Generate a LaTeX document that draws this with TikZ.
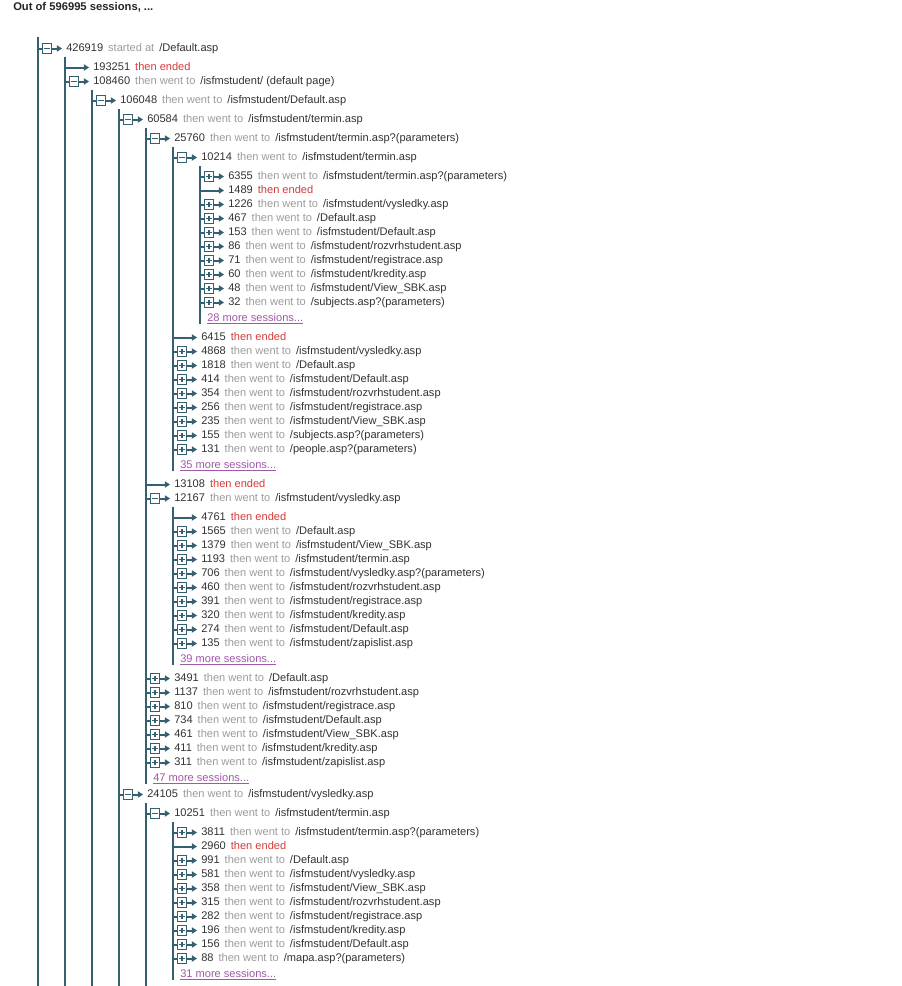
\documentclass[tikz,border=0pt]{standalone}
\usepackage{fontspec}
\setmainfont{Liberation Sans}
\usetikzlibrary{arrows.meta}

\definecolor{treeline}{HTML}{35606F}
\definecolor{numtext}{HTML}{333333}
\definecolor{softgray}{HTML}{9C9C9C}
\definecolor{endred}{HTML}{D63B3B}
\definecolor{linkpurple}{HTML}{A058A8}

\tikzset{
  trunk/.style={draw=treeline, line width=2.2pt},
  stem/.style={draw=treeline, line width=1.5pt},
  tobox/.style={stem, -{Triangle[length=3.8pt,width=4.6pt]}, shorten >=3pt},
  xbox/.style={draw=treeline, fill=white, line width=0.8pt, minimum size=7pt, inner sep=0pt},
  minusbox/.style={xbox, path picture={
    \draw[treeline,line width=0.8pt] ([xshift=1.4pt]path picture bounding box.west) -- ([xshift=-1.4pt]path picture bounding box.east);}},
  plusbox/.style={xbox, path picture={
    \draw[treeline,line width=0.8pt] ([xshift=1.4pt]path picture bounding box.west) -- ([xshift=-1.4pt]path picture bounding box.east);
    \draw[treeline,line width=0.8pt] ([yshift=1.4pt]path picture bounding box.south) -- ([yshift=-1.4pt]path picture bounding box.north);}},
  rowtext/.style={anchor=west, inner sep=0pt, text=numtext, text height=6.4pt, text depth=1.8pt},
  moretext/.style={anchor=west, inner sep=0pt, text=linkpurple, text height=6.4pt, text depth=2pt}
}

% one row: [verb]{name}{depth}{y}{box}{count}{page}
\newcommand{\wentrow}[7][then went to]{%
  \coordinate (#2-l) at ({38+27*#3},#4);
  \node[#5] (#2-b) at ({47+27*#3},#4) {};
  \node[rowtext] (#2) at ({66+27*#3},#4) {#6\hspace{0.45em}\textcolor{softgray}{#1}\hspace{0.45em}#7};
  \draw[stem] (#2-l) -- (#2-b);
  \draw[tobox] (#2-b) -- (#2);
}
% {name}{depth}{y}{count}
\newcommand{\stoprow}[4]{%
  \coordinate (#1-l) at ({38+27*#2},#3);
  \node[rowtext] (#1) at ({66+27*#2},#3) {#4\hspace{0.45em}\textcolor{endred}{then ended}};
  \draw[tobox] (#1-l) -- (#1);
}
% {name}{depth}{y}{count}
\newcommand{\morerow}[4]{%
  \node[moretext] (#1) at ({45+27*#2},#3) {\underline{#4 more sessions...}};
}

\begin{document}
\begin{tikzpicture}[x=0.75pt,y=-0.75pt,font=\fontsize{8.3}{10}\selectfont]
\useasboundingbox[fill=white] (0,-1.5) rectangle (902,984.5);
\node[anchor=west, inner sep=0pt, text=black!85, font=\fontsize{8.4}{10}\selectfont\bfseries] (title) at (13,6) {Out of 596995 sessions, ...};
\coordinate (bottom) at (0,984.5);

\wentrow[started at]{s426919}{0}{47}{minusbox}{426919}{/Default.asp}
\stoprow{s193251}{1}{66}{193251}
\wentrow{s108460}{1}{80}{minusbox}{108460}{/isfmstudent/ (default page)}
\wentrow{s106048}{2}{99}{minusbox}{106048}{/isfmstudent/Default.asp}
\wentrow{s60584}{3}{118}{minusbox}{60584}{/isfmstudent/termin.asp}
\wentrow{s25760}{4}{137}{minusbox}{25760}{/isfmstudent/termin.asp?(parameters)}
\wentrow{s10214}{5}{156}{minusbox}{10214}{/isfmstudent/termin.asp}

\wentrow{s6355}{6}{175}{plusbox}{6355}{/isfmstudent/termin.asp?(parameters)}
\stoprow{s1489}{6}{189}{1489}
\wentrow{s1226}{6}{203}{plusbox}{1226}{/isfmstudent/vysledky.asp}
\wentrow{s467}{6}{217}{plusbox}{467}{/Default.asp}
\wentrow{s153}{6}{231}{plusbox}{153}{/isfmstudent/Default.asp}
\wentrow{s86}{6}{245}{plusbox}{86}{/isfmstudent/rozvrhstudent.asp}
\wentrow{s71}{6}{259}{plusbox}{71}{/isfmstudent/registrace.asp}
\wentrow{s60}{6}{273}{plusbox}{60}{/isfmstudent/kredity.asp}
\wentrow{s48}{6}{287}{plusbox}{48}{/isfmstudent/View\_SBK.asp}
\wentrow{s32}{6}{301}{plusbox}{32}{/subjects.asp?(parameters)}
\morerow{m28}{6}{317}{28}

\stoprow{s6415}{5}{336}{6415}
\wentrow{s4868}{5}{350}{plusbox}{4868}{/isfmstudent/vysledky.asp}
\wentrow{s1818}{5}{364}{plusbox}{1818}{/Default.asp}
\wentrow{s414}{5}{378}{plusbox}{414}{/isfmstudent/Default.asp}
\wentrow{s354}{5}{392}{plusbox}{354}{/isfmstudent/rozvrhstudent.asp}
\wentrow{s256}{5}{406}{plusbox}{256}{/isfmstudent/registrace.asp}
\wentrow{s235}{5}{420}{plusbox}{235}{/isfmstudent/View\_SBK.asp}
\wentrow{s155}{5}{434}{plusbox}{155}{/subjects.asp?(parameters)}
\wentrow{s131}{5}{448}{plusbox}{131}{/people.asp?(parameters)}
\morerow{m35}{5}{464}{35}

\stoprow{s13108}{4}{483}{13108}
\wentrow{s12167}{4}{497}{minusbox}{12167}{/isfmstudent/vysledky.asp}

\stoprow{s4761}{5}{516}{4761}
\wentrow{s1565}{5}{530}{plusbox}{1565}{/Default.asp}
\wentrow{s1379}{5}{544}{plusbox}{1379}{/isfmstudent/View\_SBK.asp}
\wentrow{s1193}{5}{558}{plusbox}{1193}{/isfmstudent/termin.asp}
\wentrow{s706}{5}{572}{plusbox}{706}{/isfmstudent/vysledky.asp?(parameters)}
\wentrow{s460}{5}{586}{plusbox}{460}{/isfmstudent/rozvrhstudent.asp}
\wentrow{s391}{5}{600}{plusbox}{391}{/isfmstudent/registrace.asp}
\wentrow{s320}{5}{614}{plusbox}{320}{/isfmstudent/kredity.asp}
\wentrow{s274}{5}{628}{plusbox}{274}{/isfmstudent/Default.asp}
\wentrow{s135}{5}{642}{plusbox}{135}{/isfmstudent/zapislist.asp}
\morerow{m39}{5}{658}{39}

\wentrow{s3491}{4}{677}{plusbox}{3491}{/Default.asp}
\wentrow{s1137}{4}{691}{plusbox}{1137}{/isfmstudent/rozvrhstudent.asp}
\wentrow{s810}{4}{705}{plusbox}{810}{/isfmstudent/registrace.asp}
\wentrow{s734}{4}{719}{plusbox}{734}{/isfmstudent/Default.asp}
\wentrow{s461}{4}{733}{plusbox}{461}{/isfmstudent/View\_SBK.asp}
\wentrow{s411}{4}{747}{plusbox}{411}{/isfmstudent/kredity.asp}
\wentrow{s311}{4}{761}{plusbox}{311}{/isfmstudent/zapislist.asp}
\morerow{m47}{4}{777}{47}

\wentrow{s24105}{3}{793}{minusbox}{24105}{/isfmstudent/vysledky.asp}
\wentrow{s10251}{4}{812}{minusbox}{10251}{/isfmstudent/termin.asp}

\wentrow{s3811}{5}{831}{plusbox}{3811}{/isfmstudent/termin.asp?(parameters)}
\stoprow{s2960}{5}{845}{2960}
\wentrow{s991}{5}{859}{plusbox}{991}{/Default.asp}
\wentrow{s581}{5}{873}{plusbox}{581}{/isfmstudent/vysledky.asp}
\wentrow{s358}{5}{887}{plusbox}{358}{/isfmstudent/View\_SBK.asp}
\wentrow{s315}{5}{901}{plusbox}{315}{/isfmstudent/rozvrhstudent.asp}
\wentrow{s282}{5}{915}{plusbox}{282}{/isfmstudent/registrace.asp}
\wentrow{s196}{5}{929}{plusbox}{196}{/isfmstudent/kredity.asp}
\wentrow{s156}{5}{943}{plusbox}{156}{/isfmstudent/Default.asp}
\wentrow{s88}{5}{957}{plusbox}{88}{/mapa.asp?(parameters)}
\morerow{m31}{5}{973}{31}

% vertical lines of each level
\coordinate (t0) at (38,35);
\coordinate (t1) at (65,55);
\coordinate (t2) at (92,88);
\coordinate (t3) at (119,107);
\coordinate (t4a) at (146,126);
\coordinate (t5a) at (173,145);
\coordinate (t6a) at (200,164);
\coordinate (t5b) at (173,505);
\coordinate (t4b) at (146,801);
\coordinate (t5c) at (173,820);
\draw[trunk] (t0) -- (t0 |- bottom);
\draw[trunk] (t1) -- (t1 |- bottom);
\draw[trunk] (t2) -- (t2 |- bottom);
\draw[trunk] (t3) -- (t3 |- bottom);
\draw[trunk] (t4a) -- (t4a |- m47.south);
\draw[trunk] (t5a) -- (t5a |- m35.south);
\draw[trunk] (t6a) -- (t6a |- m28.south);
\draw[trunk] (t5b) -- (t5b |- m39.south);
\draw[trunk] (t4b) -- (t4b |- bottom);
\draw[trunk] (t5c) -- (t5c |- m31.south);
\end{tikzpicture}
\end{document}
